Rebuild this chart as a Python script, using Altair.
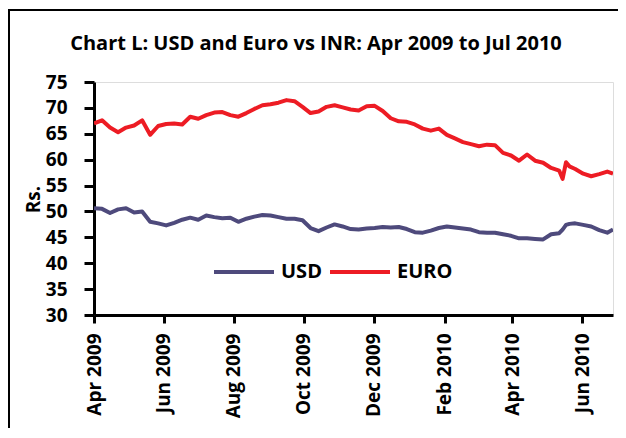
import altair as alt
import pandas as pd

dates = ["2009-04-01","2009-04-08","2009-04-15","2009-04-22","2009-04-29","2009-05-06","2009-05-13","2009-05-20","2009-05-27",
         "2009-06-03","2009-06-10","2009-06-17","2009-06-24","2009-07-01","2009-07-08","2009-07-15","2009-07-22","2009-07-29",
         "2009-08-05","2009-08-12","2009-08-19","2009-08-26","2009-09-02","2009-09-09","2009-09-16","2009-09-23","2009-09-30",
         "2009-10-07","2009-10-14","2009-10-21","2009-10-28","2009-11-04","2009-11-11","2009-11-18","2009-11-25","2009-12-02",
         "2009-12-09","2009-12-16","2009-12-23","2009-12-30","2010-01-06","2010-01-13","2010-01-20","2010-01-27","2010-02-03",
         "2010-02-10","2010-02-17","2010-02-24","2010-03-03","2010-03-10","2010-03-17","2010-03-24","2010-03-31","2010-04-07",
         "2010-04-14","2010-04-21","2010-04-28","2010-05-05","2010-05-12","2010-05-15","2010-05-18","2010-05-21","2010-05-26",
         "2010-06-02","2010-06-09","2010-06-16","2010-06-23","2010-06-28"]

usd = [50.6, 50.5, 49.7, 50.4, 50.6, 49.8, 50.0, 48.0, 47.7, 47.3, 47.8, 48.4, 48.8, 48.4, 49.2, 48.9, 48.7, 48.8,
       48.0, 48.6, 49.0, 49.3, 49.2, 48.9, 48.6, 48.6, 48.3, 46.8, 46.2, 46.9, 47.5, 47.1, 46.6, 46.5, 46.7, 46.8,
       47.0, 46.9, 47.0, 46.6, 46.0, 45.9, 46.3, 46.8, 47.1, 46.9, 46.7, 46.5, 46.0, 45.9, 45.9, 45.6, 45.3, 44.8,
       44.8, 44.7, 44.6, 45.6, 45.8, 46.5, 47.4, 47.6, 47.7, 47.4, 47.1, 46.4, 45.9, 46.5]

euro = [67.0, 67.6, 66.2, 65.3, 66.2, 66.6, 67.6, 64.8, 66.5, 66.9, 67.0, 66.8, 68.3, 67.9, 68.6, 69.1, 69.2, 68.6,
        68.3, 69.0, 69.8, 70.5, 70.7, 71.0, 71.5, 71.3, 70.2, 69.0, 69.3, 70.2, 70.5, 70.1, 69.7, 69.5, 70.3, 70.4,
        69.4, 68.0, 67.4, 67.3, 66.8, 66.0, 65.6, 66.0, 64.8, 64.1, 63.4, 63.0, 62.6, 62.9, 62.8, 61.3, 60.8, 59.8,
        61.0, 59.8, 59.4, 58.4, 57.9, 56.3, 59.5, 58.7, 58.2, 57.3, 56.8, 57.2, 57.7, 57.3]

series = ["USD", "EURO"]
colors = ["#4E4A7C", "#ED1C24"]
tick_dates = [(2009, 4), (2009, 6), (2009, 8), (2009, 10), (2009, 12), (2010, 2), (2010, 4), (2010, 6)]
y_ticks = [30, 35, 40, 45, 50, 55, 60, 65, 70, 75]
title_text = ["Chart L: USD and Euro vs INR: Apr 2009 to Jul 2010"]

rows = []
for d, u, e in zip(dates, usd, euro):
    rows.append({"date": d, "series": "USD", "value": u})
    rows.append({"date": d, "series": "EURO", "value": e})
df = pd.DataFrame(rows)

FONT = "Open Sans"

lines = alt.Chart(df).mark_line(strokeWidth=4, strokeJoin="round", clip=True).encode(
    x=alt.X("date:T",
            scale=alt.Scale(type="utc", domain=[alt.DateTime(year=2009, month=4, date=1, utc=True),
                                                alt.DateTime(year=2010, month=6, date=28, utc=True)]),
            axis=alt.Axis(values=[alt.DateTime(year=y, month=m, date=1, utc=True) for y, m in tick_dates],
                          format="%b %Y", labelAngle=-90, title=None, grid=False,
                          domainColor="black", domainWidth=3, tickColor="black", tickWidth=3, tickSize=8,
                          labelPadding=10, labelFont=FONT, labelFontSize=19, labelFontWeight="bold",
                          labelColor="black")),
    y=alt.Y("value:Q",
            scale=alt.Scale(domain=[30, 75], nice=False, zero=False),
            axis=alt.Axis(values=y_ticks, title="Rs.", grid=False,
                          domainColor="black", domainWidth=3, tickColor="black", tickWidth=3, tickSize=10,
                          labelPadding=17, labelFont=FONT, labelFontSize=19, labelFontWeight="bold",
                          labelColor="black", titleFont=FONT, titleFontSize=19, titleFontWeight="bold",
                          titleColor="black", titleX=-61, titleY=117, titleBaseline="middle",
                          titleAlign="center", titleAngle=270)),
    color=alt.Color("series:N", sort=series,
                    scale=alt.Scale(domain=series, range=colors),
                    legend=alt.Legend(orient="none", legendX=118, legendY=158, direction="horizontal",
                                      title=None, symbolType="stroke", symbolSize=3600,
                                      symbolStrokeWidth=4, labelFont=FONT, labelFontSize=20,
                                      labelFontWeight="bold", labelColor="black", labelOffset=5,
                                      columnPadding=0, padding=0)),
)

title = alt.Chart(pd.DataFrame({"t": title_text})).mark_text(
    font=FONT, fontSize=20, fontWeight="bold", color="black", align="center", baseline="alphabetic"
).encode(text="t:N", x=alt.value(222), y=alt.value(-32))

frame_top = alt.Chart(df).mark_rule(color="black", strokeWidth=2).encode(
    x=alt.value(-86), x2=alt.value(530), y=alt.value(-72))
frame_left = alt.Chart(df).mark_rule(color="black", strokeWidth=2).encode(
    x=alt.value(-85), y=alt.value(-73), y2=alt.value(360))

chart = alt.layer(lines, title, frame_top, frame_left).properties(
    width=519, height=233,
    autosize=alt.AutoSizeParams(type="none"),
    padding={"left": 86, "top": 74, "right": 5, "bottom": 113},
).configure_view(stroke=None).configure(background="white")

chart.save("out.html", embed_options={"renderer": "svg", "actions": False})
